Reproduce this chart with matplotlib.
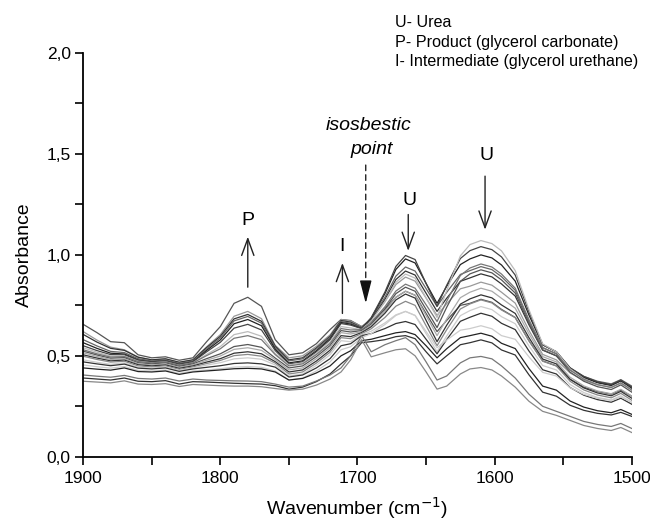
import matplotlib
matplotlib.use("Agg")
import matplotlib.pyplot as plt
from matplotlib.ticker import MultipleLocator, FuncFormatter

plt.rcParams['font.family'] = ['Liberation Sans', 'DejaVu Sans']

# wavenumber grid (cm-1) and absorbance spectra
wavenumber = [1900, 1890, 1880, 1870, 1860, 1850, 1840, 1830, 1820, 1810,
              1800, 1790, 1780, 1770, 1760, 1750, 1740, 1730, 1720, 1712,
              1705, 1697, 1690, 1680, 1672, 1665, 1658, 1650, 1642, 1635,
              1625, 1618, 1610, 1602, 1595, 1585, 1575, 1565, 1555, 1545,
              1535, 1525, 1515, 1508, 1500]

s01 = [0.656, 0.615, 0.57, 0.565, 0.505, 0.49, 0.495, 0.478, 0.49, 0.57, 0.645, 0.76, 0.79, 0.745, 0.58, 0.505, 0.515, 0.56, 0.63,
       0.68, 0.675, 0.645, 0.67, 0.73, 0.79, 0.82, 0.80, 0.71, 0.62, 0.675, 0.75, 0.76, 0.78, 0.765, 0.73, 0.69, 0.575, 0.475, 0.45, 0.383, 0.345, 0.323, 0.31, 0.33, 0.30]
s02 = [0.62, 0.578, 0.543, 0.53, 0.494, 0.48, 0.485, 0.468, 0.48, 0.545, 0.605, 0.696, 0.72, 0.684, 0.552, 0.49, 0.50, 0.547, 0.604,
       0.68, 0.672, 0.645, 0.682, 0.768, 0.853, 0.89, 0.87, 0.786, 0.70, 0.758, 0.832, 0.845, 0.865, 0.85, 0.815, 0.761, 0.626, 0.507, 0.48, 0.415, 0.379, 0.357, 0.345, 0.364, 0.335]
s03 = [0.606, 0.568, 0.537, 0.527, 0.493, 0.48, 0.485, 0.468, 0.48, 0.541, 0.597, 0.683, 0.705, 0.671, 0.548, 0.48, 0.49, 0.539, 0.597,
       0.675, 0.667, 0.64, 0.682, 0.78, 0.878, 0.92, 0.90, 0.81, 0.72, 0.785, 0.869, 0.886, 0.906, 0.891, 0.856, 0.796, 0.654, 0.528, 0.50, 0.43, 0.391, 0.368, 0.356, 0.376, 0.345]
s04 = [0.58, 0.549, 0.522, 0.516, 0.486, 0.475, 0.48, 0.463, 0.475, 0.534, 0.589, 0.673, 0.695, 0.662, 0.541, 0.475, 0.485, 0.534, 0.592,
       0.67, 0.662, 0.64, 0.685, 0.79, 0.895, 0.94, 0.92, 0.833, 0.745, 0.814, 0.903, 0.922, 0.942, 0.927, 0.892, 0.825, 0.674, 0.54, 0.51, 0.438, 0.398, 0.374, 0.361, 0.382, 0.35]
s05 = [0.565, 0.537, 0.513, 0.509, 0.48, 0.47, 0.475, 0.458, 0.47, 0.527, 0.579, 0.659, 0.68, 0.649, 0.533, 0.465, 0.475, 0.525, 0.585,
       0.665, 0.657, 0.635, 0.687, 0.808, 0.928, 0.98, 0.96, 0.859, 0.76, 0.844, 0.952, 0.98, 1.0, 0.985, 0.95, 0.87, 0.702, 0.554, 0.52, 0.439, 0.394, 0.367, 0.353, 0.376, 0.34]
s06 = [0.55, 0.526, 0.506, 0.505, 0.478, 0.47, 0.475, 0.458, 0.47, 0.52, 0.567, 0.637, 0.656, 0.628, 0.526, 0.46, 0.47, 0.52, 0.58,
       0.66, 0.652, 0.635, 0.689, 0.816, 0.943, 0.997, 0.977, 0.858, 0.745, 0.849, 0.982, 1.021, 1.041, 1.026, 0.99, 0.90, 0.718, 0.556, 0.52, 0.441, 0.398, 0.371, 0.357, 0.38, 0.345]
s07 = [0.54, 0.518, 0.499, 0.499, 0.473, 0.465, 0.47, 0.453, 0.465, 0.507, 0.546, 0.605, 0.62, 0.597, 0.512, 0.455, 0.465, 0.512, 0.569,
       0.645, 0.638, 0.63, 0.671, 0.768, 0.864, 0.905, 0.885, 0.787, 0.69, 0.823, 0.995, 1.051, 1.071, 1.056, 1.02, 0.922, 0.729, 0.559, 0.52, 0.435, 0.387, 0.359, 0.343, 0.368, 0.33]
s08 = [0.53, 0.51, 0.494, 0.496, 0.472, 0.465, 0.47, 0.453, 0.465, 0.501, 0.535, 0.587, 0.60, 0.58, 0.506, 0.45, 0.46, 0.506, 0.561,
       0.635, 0.628, 0.63, 0.664, 0.743, 0.821, 0.855, 0.835, 0.753, 0.67, 0.77, 0.898, 0.935, 0.955, 0.94, 0.905, 0.835, 0.679, 0.541, 0.51, 0.429, 0.384, 0.357, 0.343, 0.366, 0.33]
s09 = [0.523, 0.504, 0.488, 0.491, 0.466, 0.46, 0.465, 0.448, 0.46, 0.486, 0.51, 0.546, 0.556, 0.542, 0.489, 0.44, 0.45, 0.496, 0.551,
       0.625, 0.618, 0.625, 0.657, 0.733, 0.808, 0.84, 0.82, 0.73, 0.64, 0.74, 0.869, 0.906, 0.926, 0.911, 0.876, 0.811, 0.662, 0.53, 0.50, 0.419, 0.374, 0.347, 0.333, 0.356, 0.32]
s10 = [0.515, 0.497, 0.482, 0.485, 0.461, 0.455, 0.46, 0.443, 0.455, 0.478, 0.499, 0.532, 0.54, 0.527, 0.481, 0.43, 0.44, 0.486, 0.541,
       0.615, 0.608, 0.62, 0.65, 0.72, 0.79, 0.82, 0.80, 0.699, 0.60, 0.682, 0.788, 0.815, 0.835, 0.82, 0.785, 0.736, 0.609, 0.496, 0.47, 0.394, 0.351, 0.326, 0.312, 0.334, 0.30]
s11 = [0.505, 0.489, 0.475, 0.479, 0.456, 0.45, 0.455, 0.438, 0.45, 0.469, 0.486, 0.513, 0.52, 0.51, 0.471, 0.42, 0.43, 0.474, 0.528,
       0.60, 0.595, 0.615, 0.644, 0.711, 0.777, 0.806, 0.786, 0.676, 0.57, 0.651, 0.756, 0.782, 0.802, 0.787, 0.752, 0.71, 0.59, 0.484, 0.46, 0.384, 0.341, 0.316, 0.302, 0.324, 0.29]
s12 = [0.498, 0.482, 0.469, 0.473, 0.45, 0.445, 0.45, 0.433, 0.445, 0.462, 0.477, 0.501, 0.507, 0.498, 0.464, 0.41, 0.42, 0.464, 0.518,
       0.59, 0.585, 0.61, 0.634, 0.69, 0.746, 0.77, 0.75, 0.649, 0.55, 0.629, 0.732, 0.757, 0.777, 0.762, 0.727, 0.689, 0.574, 0.473, 0.45, 0.374, 0.331, 0.306, 0.292, 0.314, 0.28]
s13 = [0.48, 0.468, 0.458, 0.465, 0.444, 0.44, 0.445, 0.428, 0.44, 0.454, 0.466, 0.485, 0.49, 0.483, 0.455, 0.40, 0.41, 0.453, 0.505,
       0.575, 0.57, 0.605, 0.622, 0.663, 0.703, 0.72, 0.70, 0.61, 0.52, 0.598, 0.699, 0.724, 0.744, 0.729, 0.694, 0.659, 0.549, 0.452, 0.43, 0.358, 0.318, 0.294, 0.281, 0.302, 0.27]
s14 = [0.47, 0.46, 0.451, 0.459, 0.439, 0.435, 0.44, 0.423, 0.435, 0.443, 0.451, 0.462, 0.465, 0.46, 0.444, 0.395, 0.405, 0.44, 0.486,
       0.55, 0.56, 0.60, 0.61, 0.635, 0.66, 0.67, 0.655, 0.582, 0.51, 0.58, 0.671, 0.691, 0.711, 0.696, 0.661, 0.63, 0.524, 0.431, 0.41, 0.343, 0.305, 0.283, 0.27, 0.29, 0.26]
s15 = [0.455, 0.446, 0.439, 0.447, 0.428, 0.425, 0.43, 0.413, 0.425, 0.43, 0.436, 0.444, 0.447, 0.443, 0.425, 0.38, 0.39, 0.425, 0.47,
       0.53, 0.545, 0.59, 0.61, 0.655, 0.70, 0.72, 0.70, 0.621, 0.54, 0.578, 0.627, 0.635, 0.649, 0.634, 0.60, 0.582, 0.495, 0.418, 0.40, 0.342, 0.309, 0.29, 0.279, 0.296, 0.27]
s16 = [0.44, 0.434, 0.429, 0.44, 0.422, 0.42, 0.425, 0.408, 0.42, 0.425, 0.43, 0.436, 0.438, 0.435, 0.42, 0.38, 0.388, 0.415, 0.45,
       0.50, 0.525, 0.575, 0.582, 0.60, 0.614, 0.62, 0.605, 0.55, 0.49, 0.535, 0.59, 0.60, 0.612, 0.597, 0.562, 0.536, 0.437, 0.35, 0.33, 0.276, 0.246, 0.228, 0.218, 0.234, 0.21]
s17 = [0.39, 0.385, 0.38, 0.39, 0.374, 0.372, 0.377, 0.36, 0.372, 0.37, 0.367, 0.364, 0.362, 0.36, 0.352, 0.335, 0.345, 0.372, 0.41,
       0.46, 0.50, 0.565, 0.57, 0.58, 0.595, 0.60, 0.585, 0.52, 0.46, 0.50, 0.555, 0.565, 0.579, 0.564, 0.529, 0.504, 0.406, 0.32, 0.30, 0.255, 0.23, 0.215, 0.207, 0.22, 0.20]
s18 = [0.405, 0.399, 0.394, 0.403, 0.388, 0.385, 0.39, 0.375, 0.385, 0.38, 0.378, 0.376, 0.375, 0.372, 0.36, 0.345, 0.35, 0.375, 0.405,
       0.44, 0.50, 0.60, 0.52, 0.555, 0.575, 0.59, 0.555, 0.47, 0.38, 0.40, 0.465, 0.49, 0.497, 0.485, 0.45, 0.39, 0.31, 0.25, 0.225, 0.20, 0.175, 0.16, 0.15, 0.165, 0.14]
s19 = [0.374, 0.37, 0.366, 0.376, 0.36, 0.358, 0.362, 0.348, 0.358, 0.355, 0.352, 0.35, 0.35, 0.347, 0.338, 0.33, 0.335, 0.355, 0.385,
       0.42, 0.48, 0.58, 0.495, 0.515, 0.53, 0.535, 0.50, 0.42, 0.335, 0.35, 0.41, 0.435, 0.442, 0.43, 0.40, 0.345, 0.275, 0.225, 0.205, 0.18, 0.155, 0.14, 0.13, 0.145, 0.12]

spectra = [s01, s02, s03, s04, s05, s06, s07, s08, s09, s10,
           s11, s12, s13, s14, s15, s16, s17, s18, s19]
grays = ['#555555', '#999999', '#333333', '#666666', '#222222', '#444444', '#bbbbbb',
         '#777777', '#555555', '#aaaaaa', '#333333', '#888888', '#cccccc', '#333333',
         '#cccccc', '#222222', '#333333', '#777777', '#888888']

legend_lines = ['U- Urea', 'P- Product (glycerol carbonate)',
                'I- Intermediate (glycerol urethane)']

fig = plt.figure(figsize=(6.5, 5.25), dpi=100)
ax = fig.add_axes([0.128, 0.13, 0.844, 0.769])

for y, c in zip(spectra, grays):
    ax.plot(wavenumber, y, color=c, lw=0.9)

ax.set_xlim(1900, 1500)
ax.set_ylim(0, 2.0)
ax.spines['top'].set_visible(False)
ax.spines['right'].set_visible(False)
ax.spines['left'].set_linewidth(1.3)
ax.spines['bottom'].set_linewidth(1.3)
ax.xaxis.set_major_locator(MultipleLocator(100))
ax.xaxis.set_minor_locator(MultipleLocator(50))
ax.yaxis.set_major_locator(MultipleLocator(0.5))
ax.yaxis.set_minor_locator(MultipleLocator(0.25))
ax.yaxis.set_major_formatter(FuncFormatter(lambda v, p: ('%.1f' % v).replace('.', ',')))
ax.tick_params(which='both', direction='out', length=6, width=1.2, labelsize=12.5)
ax.tick_params(axis='y', pad=3)
ax.tick_params(axis='x', pad=4)

ax.set_xlabel('Wavenumber (cm$^{-1}$)', fontsize=14, labelpad=7)
ax.set_ylabel('Absorbance', fontsize=14, labelpad=10)

# band labels and arrows
arrow = dict(arrowstyle='->,head_length=0.6,head_width=0.22', lw=1.0,
             color='#222222', mutation_scale=20, shrinkA=0, shrinkB=0)
ax.annotate('', xy=(1780, 1.09), xytext=(1780, 0.84), arrowprops=arrow)
ax.text(1780, 1.17, 'P', fontsize=14, ha='center', va='center')
ax.annotate('', xy=(1711, 0.96), xytext=(1711, 0.71), arrowprops=arrow)
ax.text(1711, 1.04, 'I', fontsize=14, ha='center', va='center')
ax.annotate('', xy=(1663, 1.02), xytext=(1663, 1.20), arrowprops=arrow)
ax.text(1662, 1.27, 'U', fontsize=14, ha='center', va='center')
ax.annotate('', xy=(1607, 1.125), xytext=(1607, 1.39), arrowprops=arrow)
ax.text(1606, 1.49, 'U', fontsize=14, ha='center', va='center')

# dashed shaft plus solid head for the isosbestic point
ax.annotate('', xy=(1694, 0.80), xytext=(1694, 1.445),
            arrowprops=dict(arrowstyle='-', lw=1.0, color='#222222',
                            linestyle=(0, (4, 3)), shrinkA=0, shrinkB=0))
ax.annotate('', xy=(1694, 0.76), xytext=(1694, 0.83),
            arrowprops=dict(arrowstyle='-|>,head_length=0.7,head_width=0.18', lw=1.0,
                            color='#111111', mutation_scale=20, shrinkA=0, shrinkB=0))
ax.text(1692, 1.64, 'isosbestic', fontsize=14, style='italic', ha='center', va='center')
ax.text(1690, 1.52, 'point', fontsize=14, style='italic', ha='center', va='center')

for k, line in enumerate(legend_lines):
    fig.text(0.607, 0.958 - k * 0.038, line, fontsize=11.6, ha='left', va='center')

fig.savefig('out.png', dpi=100)
